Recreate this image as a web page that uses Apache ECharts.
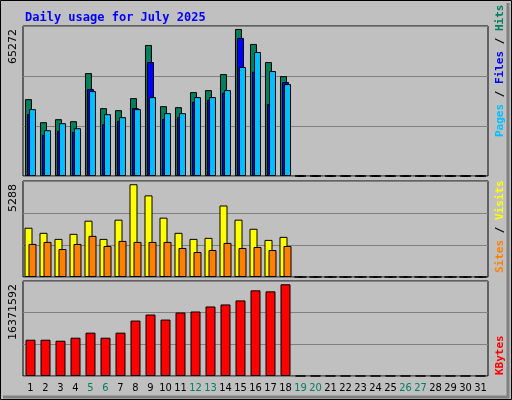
<!DOCTYPE html>
<html><head><meta charset="utf-8">
<script src="https://cdn.jsdelivr.net/npm/echarts@6/dist/echarts.min.js"></script>
<style>html,body{margin:0;padding:0;background:#C0C0C0}#c{width:512px;height:400px}</style>
</head><body><div id="c"></div>
<script>
const days = Array.from({length:31},(_,i)=>String(i+1));
const weekends = [5,6,12,13,19,20,26,27];
const hits  = [34121,23884,25220,24329,45692,30115,29225,34565,58153,31005,30560,37236,38126,45246,65272,58598,50587,44357,0,0,0,0,0,0,0,0,0,0,0,0,0];
const files = [27445,18247,20027,19582,38571,22994,24478,30115,50587,25368,26110,32934,33824,36939,61269,46285,31895,41686,0,0,0,0,0,0,0,0,0,0,0,0,0];
const pages = [29670,20324,23439,21214,37681,27445,26110,29670,35011,27890,27890,35011,35011,38126,48362,55038,46582,40796,0,0,0,0,0,0,0,0,0,0,0,0,0];
const visits= [2808,2519,2173,2461,3211,2173,3269,5288,4654,3384,2519,2173,2231,4077,3269,2750,2115,2288,0,0,0,0,0,0,0,0,0,0,0,0,0];
const sites = [1885,2000,1596,1885,2346,1769,2058,2000,2000,2000,1654,1423,1538,1942,1654,1712,1538,1769,0,0,0,0,0,0,0,0,0,0,0,0,0];
const kbytes= [6476652,6476652,6296745,6836466,7736001,6836466,7736001,9894885,10974327,10074792,11334141,11514048,12413583,12773397,13493025,15292095,15112188,16371592,0,0,0,0,0,0,0,0,0,0,0,0,0];

const maxHits = Math.max(...hits), maxVisits = Math.max(...visits), maxKB = Math.max(...kbytes);
const font = '"DejaVu Sans Mono", monospace';
const grids = [
  {left:23, width:465, top:26, height:150},
  {left:23, width:465, top:181, height:96},
  {left:23, width:465, top:281, height:95}
].map(g=>Object.assign(g,{show:true,borderColor:'#000',borderWidth:1,backgroundColor:'#C0C0C0'}));
const maxes=[maxHits*1.02,maxVisits*1.035,maxKB*1.036];
const xAxis = [0,1,2].map(i=>({type:'category',gridIndex:i,data:days,
  axisLine:{show:false},axisTick:{show:false},
  axisLabel:{show:i===2,margin:7,fontFamily:'"DejaVu Sans Condensed","Liberation Sans Narrow",sans-serif',fontSize:11,interval:0,
    color:(v)=>weekends.includes(+v)?'#00805C':'#000'}}));
const yAxis = [0,1,2].map(i=>({type:'value',gridIndex:i,min:0,max:maxes[i],interval:maxes[i]/3,
  axisLine:{show:false},axisTick:{show:false},axisLabel:{show:false},
  splitLine:{lineStyle:{color:'#808080',width:1}}}));
const bs = {borderColor:'#000',borderWidth:1};
const series = [
  {type:'bar',name:'Hits',data:hits,xAxisIndex:0,yAxisIndex:0,barWidth:7,barGap:'-71%',itemStyle:Object.assign({color:'#00805C'},bs)},
  {type:'bar',name:'Files',data:files,xAxisIndex:0,yAxisIndex:0,barWidth:7,barGap:'-71%',itemStyle:Object.assign({color:'#0000FF'},bs)},
  {type:'bar',name:'Pages',data:pages,xAxisIndex:0,yAxisIndex:0,barWidth:7,barGap:'-71%',itemStyle:Object.assign({color:'#00C0FF'},bs)},
  {type:'bar',name:'Visits',data:visits,xAxisIndex:1,yAxisIndex:1,barWidth:8,barGap:'-50%',itemStyle:Object.assign({color:'#FFFF00'},bs)},
  {type:'bar',name:'Sites',data:sites,xAxisIndex:1,yAxisIndex:1,barWidth:8,barGap:'-50%',itemStyle:Object.assign({color:'#FF8000'},bs)},
  {type:'bar',name:'KBytes',data:kbytes,xAxisIndex:2,yAxisIndex:2,barWidth:10,itemStyle:Object.assign({color:'#FF0000'},bs)}
];
const vlab=(txt,y)=>({type:'text',x:8,y:y,rotation:Math.PI/2,style:{text:txt,fill:'#000',font:'11px "DejaVu Sans"',align:'right',verticalAlign:'top'}});
const rlab=(rich,y,text)=>({type:'text',x:495,y:y,rotation:Math.PI/2,style:{text:text,rich:rich,font:'bold 11px '+font,align:'left',verticalAlign:'top'}});
const chart = echarts.init(document.getElementById('c'),null,{renderer:'canvas'});
chart.setOption({
  animation:false,
  backgroundColor:'#C0C0C0',
  title:{text:'Daily usage for July 2025',left:20,top:7,textStyle:{color:'#0000FF',fontFamily:font,fontWeight:'bold',fontSize:12}},
  grid:grids, xAxis, yAxis, series,
  graphic:[
    {type:'rect',shape:{x:0.5,y:0.5,width:511,height:399},style:{fill:'none',stroke:'#000',lineWidth:1}},
    {type:'polyline',shape:{points:[[3,397],[508,397],[508,3]]},style:{fill:'none',stroke:'#808080',lineWidth:3}},
    vlab(String(maxHits),29), vlab(String(maxVisits),184), vlab(String(maxKB),284),
    rlab({p:{fill:'#00C0FF',font:'bold 11px '+font},s:{fill:'#000',font:'bold 11px '+font},f:{fill:'#0000FF',font:'bold 11px '+font},h:{fill:'#00805C',font:'bold 11px '+font}},137,'{p|Pages}{s| / }{f|Files}{s| / }{h|Hits}'),
    rlab({v:{fill:'#FFFF00',font:'bold 11px '+font},s:{fill:'#000',font:'bold 11px '+font},t:{fill:'#FF8000',font:'bold 11px '+font}},273,'{t|Sites}{s| / }{v|Visits}'),
    rlab({k:{fill:'#FF0000',font:'bold 11px '+font}},375,'{k|KBytes}')
  ]
});
</script></body></html>
